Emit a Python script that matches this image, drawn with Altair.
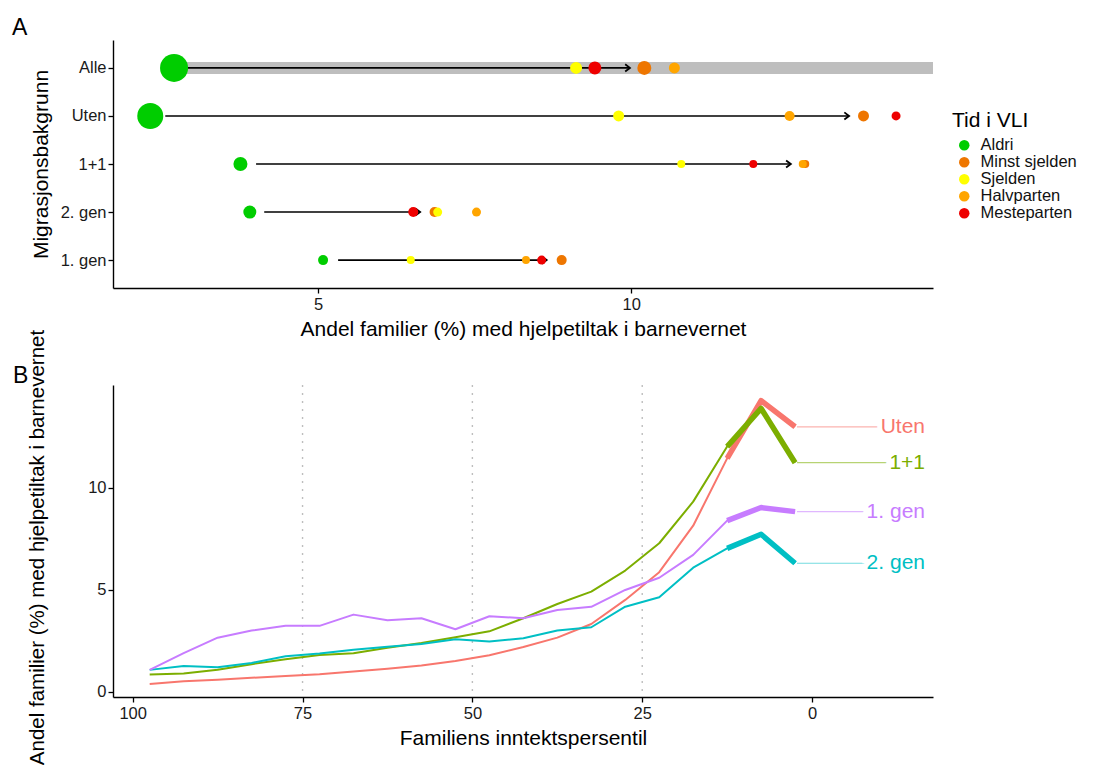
import altair as alt
import pandas as pd

# ---------------- Panel A data ----------------
migr = ["Alle", "Uten", "1+1", "2. gen", "1. gen"]
tid = ["Aldri", "Minst sjelden", "Sjelden", "Halvparten", "Mesteparten"]
tid_farger = ["#00CD00", "#EE7600", "#FFFF00", "#FFA500", "#EE0000"]

andel_aldri = [2.70, 2.32, 3.76, 3.91, 5.08]
andel_minst = [10.21, 13.71, 12.78, 6.86, 8.89]
andel_sjelden = [9.12, 9.80, 10.80, 6.91, 6.48]
andel_halv = [10.69, 12.53, 12.74, 7.53, 8.32]
andel_meste = [9.42, 14.23, 11.95, 6.52, 8.57]

antall_aldri = [78.4, 67.6, 19.6, 16.9, 10.0]
antall_minst = [19.6, 12.1, 6.4, 10.0, 10.0]
antall_sjelden = [14.4, 12.1, 6.4, 8.1, 6.4]
antall_halv = [12.1, 10.0, 6.4, 8.1, 6.4]
antall_meste = [16.9, 8.1, 6.4, 10.0, 8.1]

pil_start = [2.92, 2.56, 4.01, 4.14, 5.32]
pil_slutt = [9.98, 13.48, 12.55, 6.63, 8.65]

# ---------------- Panel B data ----------------
persentil = [97.5, 92.5, 87.5, 82.5, 77.5, 72.5, 67.5, 62.5, 57.5, 52.5,
             47.5, 42.5, 37.5, 32.5, 27.5, 22.5, 17.5, 12.5, 7.5, 2.5]
grupper = ["Uten", "1+1", "2. gen", "1. gen"]
gruppe_farger = ["#F8766D", "#7CAE00", "#00BFC4", "#C77CFF"]
uten = [0.39, 0.52, 0.59, 0.69, 0.78, 0.87, 1.00, 1.13, 1.29, 1.52,
        1.80, 2.20, 2.66, 3.33, 4.51, 5.87, 8.15, 11.45, 14.28, 13.00]
ett_ett = [0.85, 0.90, 1.09, 1.36, 1.60, 1.81, 1.90, 2.16, 2.40, 2.68,
           2.97, 3.61, 4.31, 4.92, 5.95, 7.29, 9.33, 12.03, 13.90, 11.24]
gen2 = [1.08, 1.27, 1.21, 1.42, 1.75, 1.88, 2.07, 2.22, 2.35, 2.58,
        2.47, 2.63, 3.01, 3.17, 4.18, 4.64, 6.09, 7.04, 7.73, 6.31]
gen1 = [1.08, 1.90, 2.66, 3.01, 3.24, 3.24, 3.79, 3.51, 3.61, 3.07,
        3.71, 3.61, 4.02, 4.17, 5.00, 5.60, 6.72, 8.40, 9.04, 8.84]
kvartiler = [75, 50, 25]

FONT = "Liberation Sans"

# ---------------- build tables ----------------
andel_cols = [andel_aldri, andel_minst, andel_sjelden, andel_halv, andel_meste]
antall_cols = [antall_aldri, antall_minst, antall_sjelden, antall_halv, antall_meste]
rows = []
for t, a_list, n_list in zip(tid, andel_cols, antall_cols):
    for m, a, n in zip(migr, a_list, n_list):
        rows.append({"migr": m, "tid": t, "andel": a, "antall": n})
pts = pd.DataFrame(rows)
piler = pd.DataFrame({"migr": migr, "start": pil_start, "slutt": pil_slutt})
band = pd.DataFrame({"migr": ["Alle"], "start": [andel_aldri[0]]})

x_a = alt.Scale(domain=[1.725, 14.82], nice=False, zero=False)
y_a = alt.Scale(type="point", domain=migr, padding=0.58)

band_layer = alt.Chart(band).mark_rule(color="#BEBEBE", strokeWidth=12).encode(
    x=alt.X("start:Q", scale=x_a), x2=alt.value(820),
    y=alt.Y("migr:N", scale=y_a))
arrow_line = alt.Chart(piler).mark_rule(color="black", strokeWidth=1.6).encode(
    x=alt.X("start:Q", scale=x_a,
            axis=alt.Axis(values=[5, 10], format="d",
                          title="Andel familier (%) med hjelpetiltak i barnevernet")),
    x2="slutt:Q",
    y=alt.Y("migr:N", scale=y_a, title="Migrasjonsbakgrunn",
            axis=alt.Axis(titleX=-66, titleY=124, titleBaseline="alphabetic", titleAngle=-90)))
arrow_head = alt.Chart(piler).mark_point(
    shape="M-1,-0.75L0,0L-1,0.75", filled=False, color="black",
    strokeWidth=1.8, size=90, opacity=1).encode(
    x=alt.X("slutt:Q", scale=x_a), y=alt.Y("migr:N", scale=y_a))
dots = alt.Chart(pts).mark_circle(opacity=1).encode(
    x=alt.X("andel:Q", scale=x_a),
    y=alt.Y("migr:N", scale=y_a),
    color=alt.Color("tid:N", scale=alt.Scale(domain=tid, range=tid_farger),
                    legend=alt.Legend(title="Tid i VLI", orient="none", legendX=839, legendY=70,
                                      symbolSize=110, titleFontSize=21, labelFontSize=16.5,
                                      titleFont=FONT, labelFont=FONT, titleFontWeight="normal",
                                      titleColor="#000", labelColor="#111", padding=0,
                                      titlePadding=6, rowPadding=0, symbolOffset=4,
                                      labelOffset=8)),
    size=alt.Size("antall:Q", scale=alt.Scale(domain=[0, 80], range=[0, 800]), legend=None))
label_a = alt.Chart(pd.DataFrame({"t": ["A"]})).mark_text(
    align="left", baseline="alphabetic", fontSize=23, font=FONT, color="#000").encode(
    text="t:N", x=alt.value(-101), y=alt.value(-5))

top = alt.layer(band_layer, arrow_line, arrow_head, dots, label_a).properties(width=820, height=248)

# ---------------- Panel B ----------------
lrows = []
for g, vals in zip(grupper, [uten, ett_ett, gen2, gen1]):
    for p, v in zip(persentil, vals):
        lrows.append({"pct": p, "verdi": v, "gruppe": g})
lines = pd.DataFrame(lrows)

x_b = alt.Scale(domain=[-17.8, 102.9], reverse=True, nice=False, zero=False)
y_b = alt.Scale(domain=[-0.25, 15.05], nice=False, zero=False)
col_b = alt.Color("gruppe:N", scale=alt.Scale(domain=grupper, range=gruppe_farger), legend=None)

vlines = alt.Chart(pd.DataFrame({"k": kvartiler})).mark_rule(
    color="#BEBEBE", strokeDash=[2, 6], strokeWidth=1.4).encode(x=alt.X("k:Q", scale=x_b))
thin = alt.Chart(lines).mark_line(strokeWidth=2, strokeJoin="round").encode(
    x=alt.X("pct:Q", scale=x_b, axis=alt.Axis(values=[100, 75, 50, 25, 0], format="d"),
            title="Familiens inntektspersentil"),
    y=alt.Y("verdi:Q", scale=y_b, title="Andel familier (%) med hjelpetiltak i barnevernet",
            axis=alt.Axis(values=[0, 5, 10], format="d", titleX=-70, titleY=162,
                          titleFontSize=20.5, titleBaseline="alphabetic", titleAngle=-90)),
    color=col_b, detail="gruppe:N")
thick = alt.Chart(lines).transform_filter("datum.pct <= 12.5").mark_line(
    strokeWidth=5.5, strokeCap="butt", strokeJoin="round").encode(
    x=alt.X("pct:Q", scale=x_b), y=alt.Y("verdi:Q", scale=y_b), color=col_b, detail="gruppe:N")
ends = alt.Chart(lines).transform_filter("datum.pct == 2.5")
connector = ends.mark_rule(strokeWidth=1.2, opacity=0.55).encode(
    x=alt.value(684), x2=alt.value(812), y=alt.Y("verdi:Q", scale=y_b), color=col_b)
halo = ends.mark_text(align="right", baseline="middle", fontSize=21, font=FONT,
                      stroke="white", strokeWidth=10, fill="white").encode(
    x=alt.value(812), y=alt.Y("verdi:Q", scale=y_b), text="gruppe:N")
labels = ends.mark_text(align="right", baseline="middle", fontSize=21, font=FONT).encode(
    x=alt.value(812), y=alt.Y("verdi:Q", scale=y_b), text="gruppe:N", color=col_b)
label_b = alt.Chart(pd.DataFrame({"t": ["B"]})).mark_text(
    align="left", baseline="alphabetic", fontSize=23, font=FONT, color="#000").encode(
    text="t:N", x=alt.value(-100), y=alt.value(-2))

bottom = alt.layer(vlines, thin, thick, connector, halo, labels, label_b).properties(
    width=820, height=312)

chart = alt.vconcat(top, bottom, spacing=97, bounds="flush").resolve_scale(
    color="independent", size="independent"
).properties(
    padding={"left": 12, "top": 17, "right": 5, "bottom": 0}
).configure_view(stroke=None).configure_axis(
    grid=False, domainColor="#000", domainWidth=1.4, tickColor="#000", tickWidth=1.3,
    tickSize=5, labelPadding=3, labelFontSize=16.5, labelFont=FONT, labelColor="#1a1a1a",
    titleFontSize=21, titleFont=FONT, titleFontWeight="normal", titleColor="#000",
    titlePadding=6
).configure_axisY(labelPadding=2)

chart.save("out.html", embed_options={"renderer": "svg", "actions": False})
